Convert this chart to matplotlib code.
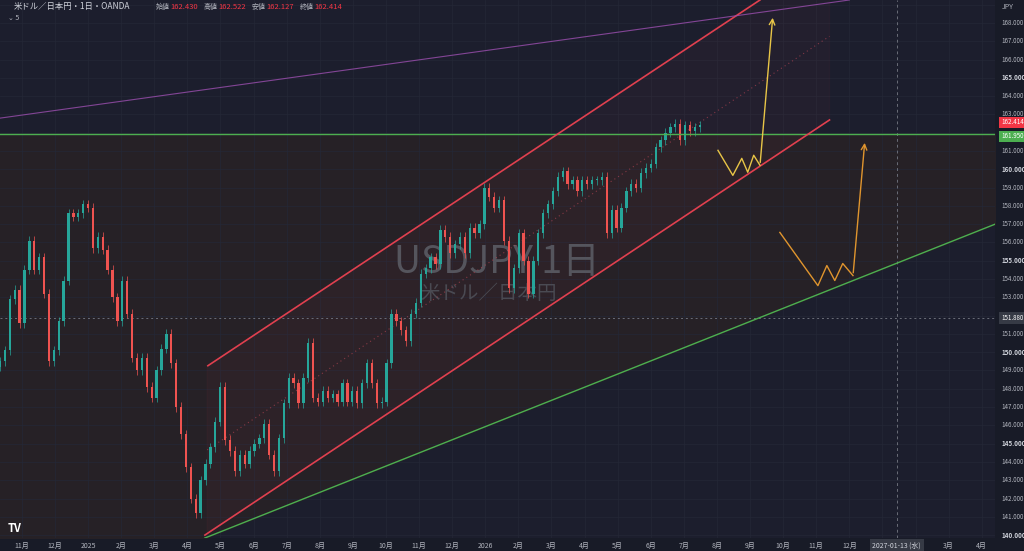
import matplotlib
matplotlib.use("Agg")
import matplotlib.pyplot as plt
import numpy as np

plt.rcParams['font.family'] = ['Noto Sans CJK JP', 'DejaVu Sans']

# ---------- DATA ----------
closes = [149.5, 150.1, 152.9, 153.4, 151.6, 154.5, 156.1, 154.5, 155.2, 153.2,
          149.5, 150.1, 151.7, 153.9, 157.6, 157.4, 157.6, 158.1, 157.9, 155.7,
          156.3, 155.6, 154.5, 153.0, 151.7, 153.9, 152.1, 149.7, 149.0, 149.7,
          148.1, 147.5, 149.0, 150.2, 151.0, 149.4, 147.0, 145.5, 143.7, 142.0,
          141.2, 143.0, 143.9, 144.8, 146.2, 148.1, 145.2, 144.6, 143.5, 144.4,
          143.9, 144.6, 145.0, 145.3, 146.1, 144.4, 143.5, 145.3, 147.2, 148.6,
          148.3, 147.2, 148.6, 150.5, 147.5, 147.3, 147.9, 147.5, 147.7, 147.3,
          148.3, 147.3, 147.9, 147.2, 148.3, 149.4, 148.3, 147.2, 147.3, 149.4,
          152.1, 151.7, 151.2, 150.6, 152.1, 152.7, 154.3, 154.6, 155.2, 154.8,
          156.7, 156.3, 155.4, 155.9, 156.3, 155.4, 156.8, 156.5, 157.0, 159.0,
          158.5, 157.9, 158.3, 156.1, 153.5, 154.6, 156.5, 155.0, 153.2, 155.0,
          156.5, 157.6, 158.1, 158.8, 159.6, 159.9, 159.2, 159.4, 158.8, 159.4,
          159.2, 159.4, 159.4, 159.6, 156.5, 157.8, 156.8, 157.9, 158.8, 159.2,
          159.0, 159.8, 160.1, 160.3, 161.2, 161.6, 162.0, 162.3, 162.5, 161.6,
          162.4, 162.1, 162.3, 162.414]
first_month, last_month = -0.66, 20.48   # months since 2024-11

month_labels = ["11月", "12月", "2025", "2月", "3月", "4月", "5月", "6月", "7月", "8月",
                "9月", "10月", "11月", "12月", "2026", "2月", "3月", "4月", "5月", "6月",
                "7月", "8月", "9月", "10月", "11月", "12月", "", "", "3月", "4月"]
price_ticks = [p for p in range(140, 169) if p not in (152, 162)]

resistance = 161.950
last_price = 162.414
cross_price = 151.880
cross_month = 26.43

green_trend = ([5.53, 29.4], [139.84, 157.0])
chan_low = ([5.53, 24.4], [140.0, 162.7])
chan_high = ([5.62, 22.3], [149.26, 169.26])
purple_line = ([-0.66, 25.0], [162.8, 169.26])

yellow_path = ([21.03, 21.48, 21.75, 21.93, 22.11, 22.30, 22.69],
               [161.04, 159.67, 160.6, 159.84, 160.77, 160.22, 168.44])
orange_path = ([22.90, 24.05, 24.32, 24.56, 24.80, 25.11, 25.47],
               [156.55, 153.64, 154.74, 153.92, 154.85, 154.19, 161.6])

BG = "#181b27"
NAVY = "#1c1e2d"
BROWN = "#262126"
UP = "#26a69a"
DOWN = "#ef5350"
TXT = "#b2b5be"

fig = plt.figure(figsize=(10.24, 5.51), dpi=100, facecolor=BG)
AX_B, AX_H = 13 / 551, 538 / 551
ax = fig.add_axes([0, AX_B, 995 / 1024, AX_H])
ax.set_facecolor(NAVY)
x0, x1 = -0.66, 29.4
y0, y1 = 139.84, 169.26
ax.set_xlim(x0, x1)
ax.set_ylim(y0, y1)

# background zones
xs = np.array([x0, x1])
slope = (green_trend[1][1] - green_trend[1][0]) / (green_trend[0][1] - green_trend[0][0])
diag = green_trend[1][0] + slope * (xs - green_trend[0][0])
ax.fill_between(xs, diag, resistance, color=BROWN, zorder=0)

for m in range(30):
    ax.axvline(m, color="#242836", lw=0.5, zorder=0.5)
for p in range(140, 170):
    ax.axhline(p, color="#242836", lw=0.5, zorder=0.5)

# channel fill
cs = (chan_low[1][1] - chan_low[1][0]) / (chan_low[0][1] - chan_low[0][0])
cx = np.linspace(5.6, 24.4, 50)
lo = chan_low[1][0] + cs * (cx - chan_low[0][0])
hi = chan_high[1][0] + cs * (cx - chan_high[0][0])
ax.fill_between(cx, lo, hi, color="#e0405a", alpha=0.04, zorder=0.6)
ax.plot(cx, (lo + hi) / 2, color="#e05060", lw=0.8, ls=(0, (1, 3)), alpha=0.5, zorder=1)

# watermark
ax.text(14.35, 154.9, "USDJPY 1日", fontsize=27, color="#55555d", ha="center", va="center", zorder=0.7)
ax.text(14.1, 153.2, "米ドル／日本円", fontsize=14, color="#4a4a52", ha="center", va="center", zorder=0.7)

# candles
n = len(closes)
cxs = np.linspace(first_month, last_month, n)
opens = [closes[0] - 0.3] + closes[:-1]
w = 0.07
for x, o, c in zip(cxs, opens, closes):
    col = UP if c >= o else DOWN
    ax.vlines(x, min(o, c) - 0.25, max(o, c) + 0.25, color=col, lw=0.5, zorder=3)
    ax.bar(x, max(abs(c - o), 0.05), bottom=min(o, c), width=w,
           color=col, zorder=3, linewidth=0)

# lines
ax.axhline(resistance, color="#4caf50", lw=1.0, zorder=4)
ax.plot(*green_trend, color="#4caf50", lw=1.0, zorder=4)
ax.plot(*chan_low, color="#e0404f", lw=1.2, zorder=4)
ax.plot(*chan_high, color="#e0404f", lw=1.2, zorder=4)
ax.plot(*purple_line, color="#9c4fb0", lw=0.8, alpha=0.8, zorder=4)
ax.axhline(cross_price, color="#6a6d78", lw=0.7, ls=(0, (2, 3)), zorder=2)
ax.axvline(cross_month, color="#6a6d78", lw=0.7, ls=(0, (3, 3)), zorder=2)

# arrows
for (px, py), col in [(yellow_path, "#e8c547"), (orange_path, "#e0952e")]:
    ax.plot(px[:-1], py[:-1], color=col, lw=1.0, zorder=5)
    ax.annotate("", xy=(px[-1], py[-1]), xytext=(px[-2], py[-2]),
                arrowprops=dict(arrowstyle="->", color=col, lw=1.0), zorder=5)

ax.set_xticks([])
ax.set_yticks([])
for s in ax.spines.values():
    s.set_visible(False)

# time axis labels
fx = lambda m: (m - x0) / (x1 - x0) * 995 / 1024
for m, lab in enumerate(month_labels):
    if lab:
        fig.text(fx(m), 5 / 551, lab, fontsize=5, color=TXT, ha="center", va="center")
fig.text(fx(cross_month), 5 / 551, "2027-01-13 (水)", fontsize=5, color="#d1d4dc", ha="center",
         va="center", bbox=dict(boxstyle="square,pad=0.4", fc="#363a45", ec="none"))

# price axis labels
fy = lambda p: AX_B + (p - y0) / (y1 - y0) * AX_H
for p in price_ticks:
    bold = p % 5 == 0
    fig.text(1001 / 1024, fy(p), f"{p}.000", fontsize=4.5, color="#d1d4dc" if bold else TXT,
             ha="left", va="center", fontweight="bold" if bold else "normal")
for p, fc, dy in [(last_price, "#f23645", 0.005), (resistance, "#4caf50", -0.005), (cross_price, "#363a45", 0)]:
    fig.text(1001 / 1024, fy(p) + dy, f"{p:.3f}", fontsize=4.5, color="white", ha="left", va="center",
             bbox=dict(boxstyle="square,pad=0.3", fc=fc, ec="none"))
fig.text(1008 / 1024, 544 / 551, "JPY", fontsize=5, color=TXT, ha="center", va="center")

# header
fig.text(14 / 1024, 544 / 551, "米ドル／日本円・1日・OANDA", fontsize=6, color="#d1d4dc", ha="left", va="center")
hx = 156
for lab, val in [("始値", "162.430"), ("高値", "162.522"), ("安値", "162.127"), ("終値", "162.414")]:
    fig.text(hx / 1024, 544 / 551, lab, fontsize=5, color=TXT, ha="left", va="center")
    fig.text((hx + 14) / 1024, 544 / 551, val, fontsize=5.5, color="#f23645", ha="left", va="center")
    hx += 48
fig.text(8 / 1024, 533 / 551, "⌄ 5", fontsize=5, color=TXT, ha="left", va="center")
fig.text(8 / 1024, 22 / 551, "TV", fontsize=8, color="white", fontweight="bold", ha="left", va="center")

fig.savefig("out.png", dpi=100, facecolor=BG)
